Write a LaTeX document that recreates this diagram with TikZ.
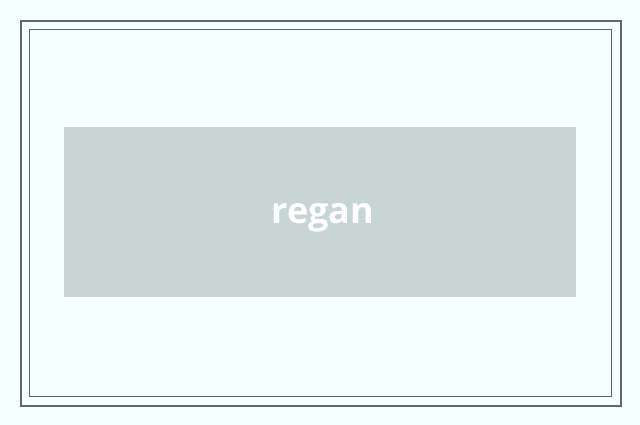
\documentclass[tikz,border=0pt]{standalone}
\usepackage{fontspec}
\setmainfont{Open Sans}
\usepackage{tikz}
\usetikzlibrary{positioning}

\definecolor{bgcyan}{HTML}{F5FFFF}
\definecolor{framegrey}{HTML}{5A6B6B}
\definecolor{boxgrey}{HTML}{C8D5D5}

\begin{document}
\begin{tikzpicture}[x=1pt, y=-1pt]

\fill [bgcyan] (0,0) rectangle (640,425);
\useasboundingbox (0,0) rectangle (640,425);

\draw [framegrey, line width=2pt] (21,21) rectangle (621,406);
\draw [framegrey, line width=1pt] (29.5,29.5) rectangle (611.5,396.5);

\node [fill=boxgrey, minimum width=512pt, minimum height=170pt, inner sep=0pt] (banner) at (320,212) {};

\node [anchor=base, text=white, font=\bfseries\fontsize{36}{40}\selectfont, inner sep=0pt] (name) at (323,223) {regan};

\end{tikzpicture}
\end{document}
